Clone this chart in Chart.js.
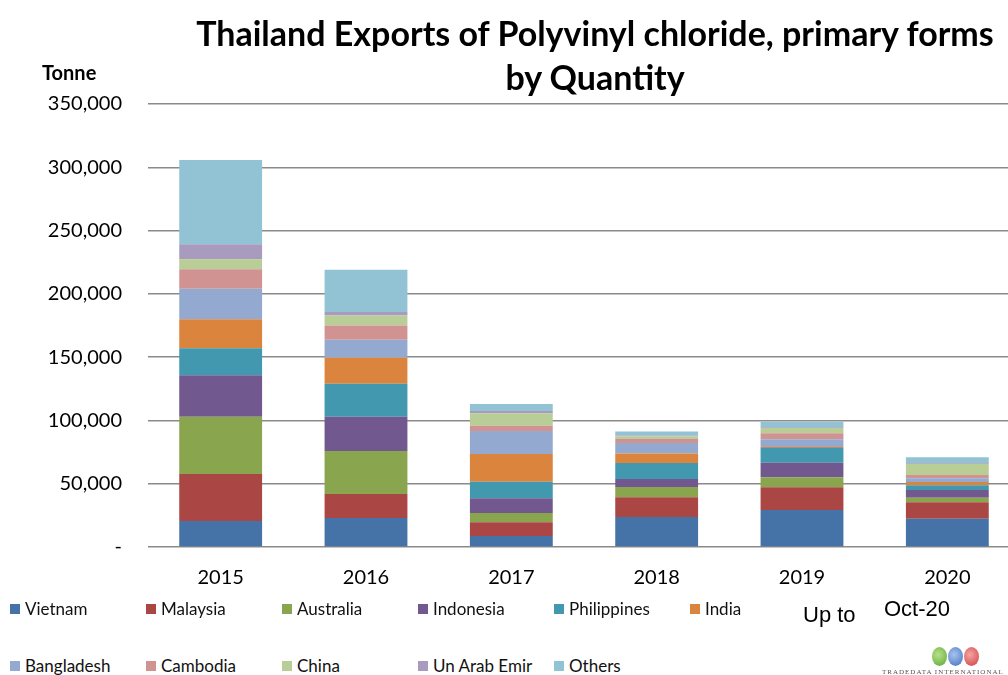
<!DOCTYPE html>
<html>
<head>
<meta charset="utf-8">
<script src="https://cdn.jsdelivr.net/npm/chart.js@4/dist/chart.umd.min.js"></script>
<style>
    html, body { margin: 0; padding: 0; background: #fff; }
    body { width: 1008px; height: 675px; overflow: hidden; position: relative; font-family: Lato, sans-serif; }
    #chart-box { position: absolute; left: 0; top: 0; width: 1030px; height: 600px; }
    .title { position: absolute; left: 150px; width: 890px; text-align: center; font-weight: bold; font-size: 34px; color: #000; line-height: 44px; top: 11px; }
    .unit { position: absolute; left: 42px; top: 60px; font-weight: bold; font-size: 20px; }
    .legend-item { position: absolute; font-size: 17px; color: #111; display: flex; align-items: center; white-space: nowrap; }
    .legend-item span.box { display: inline-block; width: 10px; height: 10px; margin-right: 5px; }
    .note { position: absolute; font-family: "Liberation Sans", Arial, sans-serif; color: #000; }
    .globe { position: absolute; width: 15px; height: 19px; border-radius: 50%; top: 647px; }
    .brand { position: absolute; left: 882px; top: 668px; font-size: 7px; letter-spacing: 1px; color: #555; font-family: "Liberation Serif", serif; }
</style>
</head>
<body>
<div id="chart-box"><canvas id="exportChart"></canvas></div>
<div class="title">Thailand Exports of Polyvinyl chloride, primary forms<br>by Quantity</div>
<div class="unit">Tonne</div>
<div id="legend"></div>
<div class="note" style="left:803px; top:602px; font-size:22px;">Up to</div>
<div class="note" style="left:884px; top:596px; font-size:22px;">Oct-20</div>
<div class="globe" style="left:932px; background: radial-gradient(circle at 40% 40%, #b8e08a, #5aa832);"></div>
<div class="globe" style="left:948px; background: radial-gradient(circle at 40% 40%, #a9c4ee, #3c6fc0);"></div>
<div class="globe" style="left:964px; background: radial-gradient(circle at 40% 40%, #f2a5a5, #d23c3c);"></div>
<div class="brand">TRADEDATA INTERNATIONAL</div>

<script>
// 年
const years = ['2015', '2016', '2017', '2018', '2019', '2020'];

// 国別数量 (トン)
const vietnam     = [20500, 22900, 8700, 23700, 29200, 22400];
const malaysia    = [37200, 19000, 10800, 15600, 18000, 12900];
const australia   = [45200, 33900, 7400, 8100, 7900, 3600];
const indonesia   = [32700, 27100, 11600, 6300, 11500, 6100];
const philippines = [21400, 26100, 13100, 12600, 11600, 3700];
const india       = [22900, 20500, 21900, 7600, 800, 2700];
const bangladesh  = [24200, 14200, 18100, 8200, 6100, 2900];
const cambodia    = [15300, 11300, 4200, 3200, 4700, 2600];
const china       = [7900, 7900, 9800, 2000, 4200, 8600];
const unArabEmir  = [11800, 2700, 1800, 800, 600, 600];
const others      = [66600, 33400, 5600, 3200, 4400, 4800];

const seriesNames = ['Vietnam', 'Malaysia', 'Australia', 'Indonesia', 'Philippines', 'India',
                     'Bangladesh', 'Cambodia', 'China', 'Un Arab Emir', 'Others'];
const seriesData = [vietnam, malaysia, australia, indonesia, philippines, india,
                    bangladesh, cambodia, china, unArabEmir, others];
const seriesColors = ['#4572A7', '#AA4643', '#89A54E', '#71588F', '#4198AF', '#DB843D',
                      '#93A9CF', '#D09392', '#B9CD96', '#A99BBD', '#92C3D4'];

let exportChart;

document.addEventListener('DOMContentLoaded', () => {
    initChart();
    buildLegend();
});

function initChart() {
    const ctx = document.getElementById('exportChart').getContext('2d');
    exportChart = new Chart(ctx, {
        type: 'bar',
        data: {
            labels: years,
            datasets: seriesNames.map((name, i) => ({
                label: name,
                data: seriesData[i],
                backgroundColor: seriesColors[i],
                borderWidth: 0,
                categoryPercentage: 1,
                barPercentage: 0.57
            }))
        },
        options: {
            responsive: true,
            maintainAspectRatio: false,
            animation: false,
            layout: { padding: { top: 104, right: 10, bottom: 0, left: 0 } },
            plugins: {
                legend: { display: false },
                title: { display: false },
                tooltip: { enabled: false }
            },
            scales: {
                x: {
                    stacked: true,
                    grid: { display: false, drawTicks: false },
                    border: { display: false },
                    ticks: { color: '#000', padding: 19, font: { family: 'Lato', size: 20 } },
                    afterFit: (axis) => { axis.height = 53; }
                },
                y: {
                    stacked: true,
                    min: 0,
                    max: 350000,
                    grid: { color: '#8a8a8a', lineWidth: 1.5, drawTicks: false },
                    border: { display: false },
                    ticks: {
                        stepSize: 50000,
                        color: '#000',
                        padding: 26,
                        font: { family: 'Lato', size: 20 },
                        callback: (val) => val === 0 ? '-' : val.toLocaleString('en-US')
                    },
                    afterFit: (axis) => { axis.width = 148; }
                }
            }
        }
    });
}

function buildLegend() {
    const legend = document.getElementById('legend');
    const html = seriesNames.map((name, i) => {
        const col = i % 6;
        const row = Math.floor(i / 6);
        const left = 10 + col * 136;
        const top = row === 0 ? 598 : 655;
        return `<div class="legend-item" style="left:${left}px; top:${top}px;">
                    <span class="box" style="background:${seriesColors[i]}"></span>${name}
                </div>`;
    }).join('');
    legend.innerHTML = html;
}
</script>
</body>
</html>
